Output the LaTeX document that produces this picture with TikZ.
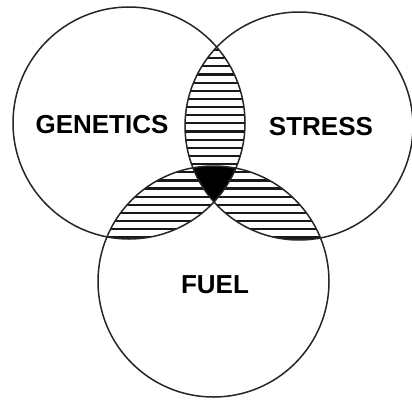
\documentclass[tikz,border=0pt]{standalone}
\usepackage{fontspec}
\setmainfont{Liberation Sans}
\begin{document}
\begin{tikzpicture}[x=1pt,y=-1pt,
  ring/.style={draw=black!85, line width=1.5pt},
  hatchline/.style={black!90, line width=2.2pt},
  lbl/.style={font=\fontsize{26}{28}\selectfont\bfseries, inner sep=0pt}]
\useasboundingbox (0,0) rectangle (412,399);
\fill[white] (0,0) rectangle (412,399);
\coordinate (cL) at (129,123);
\coordinate (cR) at (299,126);
\coordinate (cB) at (213.5,281.5);
\def\rL{116pt}\def\rR{114pt}\def\rB{115.5pt}
% L and R
\begin{scope}
  \clip (cL) circle[radius=\rL];
  \clip (cR) circle[radius=\rR];
  \foreach \k in {0,...,24} \draw[hatchline] (0,{50+8.15*\k}) -- (412,{50+8.15*\k});
\end{scope}
% L and B
\begin{scope}
  \clip (cL) circle[radius=\rL];
  \clip (cB) circle[radius=\rB];
  \foreach \k in {0,...,24} \draw[hatchline] (0,{50+8.15*\k}) -- (412,{50+8.15*\k});
\end{scope}
% R and B
\begin{scope}
  \clip (cR) circle[radius=\rR];
  \clip (cB) circle[radius=\rB];
  \foreach \k in {0,...,24} \draw[hatchline] (0,{50+8.15*\k}) -- (412,{50+8.15*\k});
\end{scope}
% triple
\begin{scope}
  \clip (cL) circle[radius=\rL];
  \clip (cR) circle[radius=\rR];
  \fill[black] (cB) circle[radius=\rB];
\end{scope}
\draw[ring] (cL) circle[radius=\rL];
\draw[ring] (cR) circle[radius=\rR];
\draw[ring] (cB) circle[radius=\rB];
\node[lbl] (gen) at (102,125) {GENETICS};
\node[lbl] (str) at (321,127) {STRESS};
\node[lbl] (fuel) at (215,285) {FUEL};
\end{tikzpicture}
\end{document}
